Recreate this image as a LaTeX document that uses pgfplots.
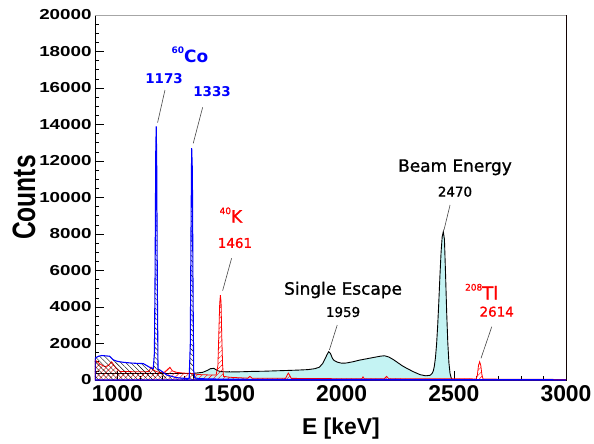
\documentclass[border=0pt]{standalone}
\usepackage{pgfplots}
\pgfplotsset{compat=1.18}
\usepackage{fontspec}
\usepackage{graphicx}
\setmainfont{Liberation Sans}
\newfontfamily\dvs{DejaVu Sans}
\newfontface\dvsm{DejaVu Sans}[FakeBold=1.2]
\usetikzlibrary{patterns.meta}
\definecolor{cblue}{RGB}{0,0,255}
\definecolor{cred}{RGB}{255,0,0}
\definecolor{ccyan}{RGB}{196,243,243}
\definecolor{cframe}{RGB}{150,20,20}
\definecolor{cline}{RGB}{70,70,70}

\begin{document}
\begin{tikzpicture}
\useasboundingbox (-95bp,-64bp) rectangle (499bp,380bp);
\begin{axis}[
  scale only axis, width=471bp, height=365bp,
  xmin=900, xmax=3000, ymin=0, ymax=20000,
  xtick={1000,1500,2000,2500,3000}, minor x tick num=4,
  ytick={0,2000,...,20000}, minor y tick num=3,
  xtick pos=left, ytick pos=left, tick align=inside,
  major tick length=9bp, minor tick length=4.5bp,
  tick style={black, line width=0.6pt},
  scaled ticks=false,
  /pgf/number format/1000 sep={},
  /pgf/number format/assume math mode=true,
  xticklabel style={font=\fontsize{23}{23}\selectfont\bfseries, yshift=-2bp},
  yticklabel={\scalebox{1.3}[1]{\pgfmathprintnumber{\tick}}},
  yticklabel style={font=\fontsize{14.5}{14.5}\selectfont\bfseries},
  xlabel={E [keV]},
  ylabel={\scalebox{0.95}[1.25]{Counts}},
  xlabel style={font=\fontsize{23}{23}\selectfont\bfseries, at={(axis description cs:0.522,-0.132)}, anchor=center},
  ylabel style={font=\fontsize{26}{26}\selectfont\bfseries, at={(axis description cs:-0.151,0.5)}, anchor=center},
  axis line style={black, line width=0.8pt},
]
% beam spectrum (black, cyan fill)
\addplot[black, line width=0.9pt, fill=ccyan] coordinates {
(1340,365) (1380,420) (1400,520) (1415,620) (1430,640) (1445,520) (1460,460)
(1500,440) (1550,450) (1600,470) (1650,480) (1700,500) (1750,520) (1800,540)
(1850,570) (1880,620) (1900,700) (1915,900) (1925,1150) (1935,1400) (1942,1550)
(1950,1450) (1958,1200) (1965,1080) (1980,980) (2000,920) (2020,930) (2050,1000)
(2080,1090) (2110,1160) (2140,1230) (2170,1300) (2190,1330) (2210,1260) (2230,1120)
(2250,950) (2270,780) (2290,640) (2320,450) (2350,290) (2375,230) (2395,260)
(2403,360) (2408,480) (2413,760) (2418,1230) (2423,1960) (2428,3000) (2433,4300)
(2438,5730) (2443,7000) (2448,7850) (2453,8125) (2458,7700) (2463,5800) (2468,3700)
(2473,2040) (2478,940) (2483,360) (2488,115) (2493,30) (2500,0) (3000,0)
} \closedcycle;
\addplot[black, line width=1.2pt] coordinates {(900,365) (1340,365)};
% background (red, hatched)
\addplot[cred, line width=0.8pt, pattern={Lines[angle=45,distance=3.5pt,line width=0.4pt]}, pattern color=cred] coordinates {
(900,1095) (910,1000) (920,900) (935,780) (945,730) (960,800) (974,1000) (985,800)
(995,640) (1011,470) (1050,460) (1100,450) (1140,460) (1150,700) (1156,600)
(1170,480) (1190,400) (1210,430) (1234,695) (1245,500) (1264,420) (1292,380)
(1330,360) (1360,300) (1400,280) (1440,270) (1448,800) (1452,2500) (1456,4200)
(1459,4650) (1462,4300) (1465,2500) (1469,800) (1473,200) (1500,150) (1580,100)
(1591,200) (1600,100) (1750,90) (1758,300) (1762,380) (1766,300) (1775,90)
(2000,70) (2090,70) (2095,170) (2100,70) (2190,70) (2200,200) (2210,70)
(2600,60) (2605,300) (2610,800) (2615,1000) (2620,800) (2625,300) (2630,50) (3000,30)
} \closedcycle;
% 60Co source (blue, hatched)
\addplot[cblue, line width=1.1pt, pattern={Lines[angle=-45,distance=3.5pt,line width=0.4pt]}, pattern color=black] coordinates {
(900,1190) (915,1300) (930,1340) (950,1320) (965,1300) (982,1100) (1000,1020)
(1026,970) (1060,930) (1086,913) (1115,900) (1135,760) (1150,650) (1160,640)
(1165,1500) (1168,6000) (1171,12500) (1173,13900) (1175,12000) (1178,5000)
(1181,600) (1190,540) (1220,274) (1264,127) (1309,80) (1320,90) (1325,2000)
(1328,8000) (1331,12700) (1334,11500) (1337,5000) (1340,500) (1345,120)
(1360,80) (1400,60) (1500,40) (2000,30) (2500,20) (3000,10)
} \closedcycle;
% frame colours
\draw[gray!70, line width=0.8pt] (rel axis cs:0,1) -- (rel axis cs:1,1);
\draw[cframe, line width=0.8pt] (rel axis cs:1,0) -- (rel axis cs:1,1);
% annotations
\node[text=cblue, font=\dvs\bfseries\fontsize{17}{17}\selectfont] at (axis cs:1323,17808) {\raisebox{0.5em}{\fontsize{9}{9}\selectfont 60}Co};
\node[text=cblue, font=\dvs\bfseries\fontsize{13.5}{13.5}\selectfont] at (axis cs:1208,16493) {1173};
\node[text=cblue, font=\dvs\bfseries\fontsize{13.5}{13.5}\selectfont] at (axis cs:1422,15781) {1333};
\draw[cline, line width=0.6pt] (axis cs:1212,15890) -- (axis cs:1179,14099);
\draw[cline, line width=0.6pt] (axis cs:1380,14942) -- (axis cs:1338,12970);
\node[text=cred, font=\dvsm\fontsize{17}{17}\selectfont] at (axis cs:1506,9041) {\raisebox{0.5em}{\fontsize{9}{9}\selectfont 40}K};
\node[text=cred, font=\dvsm\fontsize{13.5}{13.5}\selectfont] at (axis cs:1524,7507) {1461};
\draw[cline, line width=0.6pt] (axis cs:1509,6668) -- (axis cs:1469,4893);
\node[text=black, font=\dvsm\fontsize{17}{17}\selectfont] at (axis cs:2006,4932) {Single Escape};
\node[text=black, font=\dvsm\fontsize{13.5}{13.5}\selectfont] at (axis cs:2006,3726) {1959};
\draw[cline, line width=0.6pt] (axis cs:1980,3014) -- (axis cs:1945,1644);
\node[text=black, font=\dvsm\fontsize{17}{17}\selectfont] at (axis cs:2505,11655) {Beam Energy};
\node[text=black, font=\dvsm\fontsize{13.5}{13.5}\selectfont] at (axis cs:2505,10318) {2470};
\draw[cline, line width=0.6pt] (axis cs:2483,9589) -- (axis cs:2456,8219);
\node[text=cred, font=\dvsm\fontsize{18}{18}\selectfont] at (axis cs:2624,4838) {\raisebox{0.5em}{\fontsize{9}{9}\selectfont 208}Tl};
\node[text=cred, font=\dvsm\fontsize{13.5}{13.5}\selectfont] at (axis cs:2691,3742) {2614};
\draw[cline, line width=0.6pt] (axis cs:2669,2921) -- (axis cs:2621,1189);
\end{axis}
\end{tikzpicture}
\end{document}
